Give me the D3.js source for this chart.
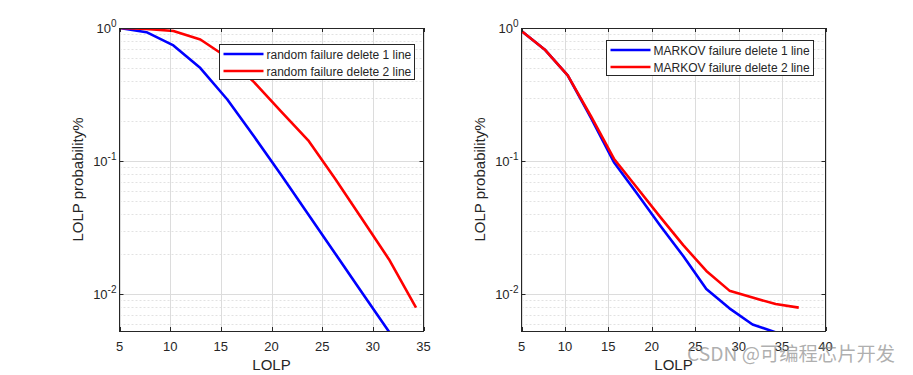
<!DOCTYPE html>
<html lang="en">
<head>
<meta charset="utf-8">
<title>LOLP curves</title>
<script src="https://cdn.jsdelivr.net/npm/d3@7"></script>
<style>
	body { margin: 0; background: #fff; font-family: "Liberation Sans", Arial, sans-serif; }
	svg text { fill: #262626; }
	.grid-major { stroke: #dcdcdc; stroke-width: 1; }
	.grid-minor { stroke: #e2e2e2; stroke-width: 1; stroke-dasharray: 2,2; }
	.box { fill: none; stroke: #262626; stroke-width: 1; }
	.tick { stroke: #262626; stroke-width: 1; }
</style>
</head>
<body>
<svg id="chart" width="913" height="375"></svg>
<script>
// x grid shared by all series
var lolpX = [5, 7.66, 10.32, 12.98, 15.64, 18.3, 20.96, 23.62, 26.28, 28.94, 31.6, 34.26, 36.92]

// left panel: random failure
var randomOne = [1.0, 0.93, 0.74, 0.50, 0.29, 0.152, 0.0785, 0.0398, 0.0202, 0.0102, 0.0052, 0.0026]
var randomTwo = [1.0, 0.985, 0.95, 0.82, 0.60, 0.39, 0.235, 0.143, 0.0735, 0.0366, 0.0182, 0.0079]

// right panel: MARKOV failure
var markovOne = [0.95, 0.69, 0.44, 0.212, 0.098, 0.057, 0.0328, 0.0193, 0.0109, 0.0078, 0.0059, 0.00515]
var markovTwo = [0.95, 0.69, 0.44, 0.218, 0.104, 0.063, 0.038, 0.0233, 0.0149, 0.0106, 0.0094, 0.0084, 0.0079]

var xTicksLeft = [5, 10, 15, 20, 25, 30, 35]
var xTicksRight = [5, 10, 15, 20, 25, 30, 35, 40]
var yTicks = [1, 0.1, 0.01]
var yTickExp = ["0", "-1", "-2"]

var panels = [
	{ left: 119.5, right: 423.5, xDom: [5, 35], xTicks: xTicksLeft,
	  series: [randomOne, randomTwo],
	  names: ["random failure delete 1 line", "random failure delete 2 line"],
	  legend: { x: 219.5, y: 44.5, w: 195, h: 35 } },
	{ left: 521.5, right: 825.5, xDom: [5, 40], xTicks: xTicksRight,
	  series: [markovOne, markovTwo],
	  names: ["MARKOV failure delete 1 line", "MARKOV failure delete 2 line"],
	  legend: { x: 606.5, y: 40.5, w: 207, h: 35 } }
]
var colors = ["#0000ff", "#ff0000"]
var plotTop = 28, plotBottom = 331

var svg = d3.select("#chart")

panels.forEach(function(p, pi) {
	var x = d3.scaleLinear().domain(p.xDom).range([p.left, p.right])
	var y = d3.scaleLog().domain([0.00527, 1]).range([plotBottom, plotTop])
	var g = svg.append("g")

	// minor grid (log)
	var minors = []
	;[0.001, 0.01, 0.1].forEach(function(d) {
		for (var k = 2; k <= 9; k++) {
			var v = d * k
			if (v >= 0.00527 && v < 1) minors.push(v)
		}
	})
	g.selectAll(".grid-minor").data(minors).enter().append("line")
		.attr("class", "grid-minor")
		.attr("x1", p.left).attr("x2", p.right)
		.attr("y1", function(d) { return Math.round(y(d)) + 0.5 })
		.attr("y2", function(d) { return Math.round(y(d)) + 0.5 })

	// major grid
	g.selectAll(".gy").data(yTicks).enter().append("line")
		.attr("class", "grid-major")
		.attr("x1", p.left).attr("x2", p.right)
		.attr("y1", function(d) { return Math.round(y(d)) + 0.5 })
		.attr("y2", function(d) { return Math.round(y(d)) + 0.5 })
	g.selectAll(".gx").data(p.xTicks).enter().append("line")
		.attr("class", "grid-major")
		.attr("y1", plotTop).attr("y2", plotBottom)
		.attr("x1", function(d) { return Math.round(x(d)) + 0.5 })
		.attr("x2", function(d) { return Math.round(x(d)) + 0.5 })

	// curves, clipped to the axes
	var clipId = "clip" + pi
	svg.append("clipPath").attr("id", clipId).append("rect")
		.attr("x", p.left).attr("y", plotTop).attr("width", p.right - p.left).attr("height", plotBottom - plotTop)
	var line = d3.line()
		.x(function(d, i) { return x(lolpX[i]) })
		.y(function(d) { return y(d) })
	p.series.forEach(function(s, si) {
		g.append("path").datum(s)
			.attr("clip-path", "url(#" + clipId + ")")
			.attr("d", line)
			.attr("fill", "none")
			.attr("stroke", colors[si])
			.attr("stroke-width", 2.6)
			.attr("stroke-linejoin", "round")
	})

	// box + inward ticks
	g.append("rect").attr("class", "box")
		.attr("x", p.left).attr("y", plotTop + 0.5).attr("width", p.right - p.left).attr("height", plotBottom - plotTop)
	p.xTicks.forEach(function(d) {
		var xx = Math.round(x(d)) + 0.5
		g.append("line").attr("class", "tick").attr("x1", xx).attr("x2", xx).attr("y1", plotBottom).attr("y2", plotBottom - 4)
		g.append("line").attr("class", "tick").attr("x1", xx).attr("x2", xx).attr("y1", plotTop).attr("y2", plotTop + 4)
	})
	yTicks.forEach(function(d) {
		var yy = Math.round(y(d)) + 0.5
		g.append("line").attr("class", "tick").attr("x1", p.left).attr("x2", p.left + 4).attr("y1", yy).attr("y2", yy)
		g.append("line").attr("class", "tick").attr("x1", p.right).attr("x2", p.right - 4).attr("y1", yy).attr("y2", yy)
	})

	// x tick labels
	g.selectAll(".xl").data(p.xTicks).enter().append("text")
		.attr("x", function(d) { return x(d) })
		.attr("y", plotBottom + 20)
		.attr("text-anchor", "middle")
		.style("font-size", "13px")
		.text(function(d) { return d })

	// y tick labels as 10^n
	yTicks.forEach(function(d, i) {
		var t = g.append("text")
			.attr("x", p.left - 3)
			.attr("y", y(d) + 5)
			.attr("text-anchor", "end")
			.style("font-size", "13px")
		t.append("tspan").text("10")
		t.append("tspan").attr("dy", -6).style("font-size", "10px").text(yTickExp[i])
	})

	// axis titles
	g.append("text")
		.attr("x", (p.left + p.right) / 2).attr("y", 370)
		.attr("text-anchor", "middle").style("font-size", "15px")
		.text("LOLP")
	g.append("text")
		.attr("transform", "translate(" + (p.left - 37) + "," + ((plotTop + plotBottom) / 2) + ") rotate(-90)")
		.attr("text-anchor", "middle").style("font-size", "15px")
		.text("LOLP probability%")

	// legend
	var L = p.legend
	var lg = g.append("g")
	lg.append("rect").attr("x", L.x).attr("y", L.y).attr("width", L.w).attr("height", L.h)
		.attr("fill", "#fff").attr("stroke", "#262626").attr("stroke-width", 1)
	p.names.forEach(function(n, i) {
		var ly = L.y + 9.5 + i * 17
		lg.append("line").attr("x1", L.x + 4).attr("x2", L.x + 44).attr("y1", ly).attr("y2", ly)
			.attr("stroke", colors[i]).attr("stroke-width", 2.6)
		lg.append("text").attr("x", L.x + 47).attr("y", ly + 4.5)
			.style("font-size", "12px").text(n)
	})
})

// watermark
svg.append("text")
	.attr("x", 687).attr("y", 361)
	.attr("textLength", 208)
	.attr("lengthAdjust", "spacingAndGlyphs")
	.style("font-family", "'Noto Sans CJK SC', sans-serif")
	.style("font-size", "19px")
	.style("fill", "rgba(140,140,140,0.7)")
	.text("CSDN @可编程芯片开发")
</script>
</body>
</html>
